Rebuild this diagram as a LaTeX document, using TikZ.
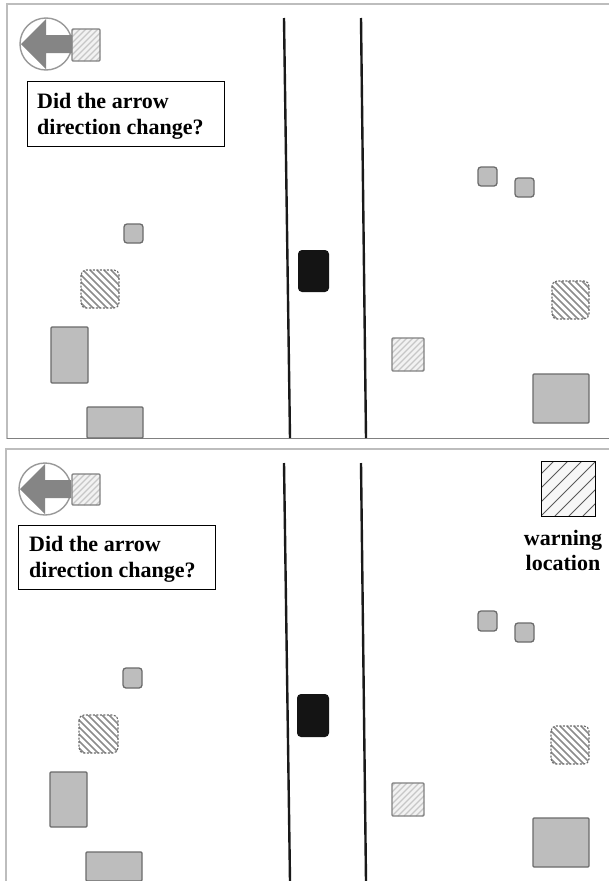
\documentclass[tikz,border=0pt]{standalone}
\usepackage{fontspec}
\setmainfont{Liberation Serif}
\definecolor{fillgray}{gray}{0.74}
\definecolor{edgegray}{gray}{0.42}
\definecolor{framegray}{gray}{0.74}
\tikzset{
  x=1pt,y=-1pt,
  framel/.style={draw=framegray,line width=1.6pt},
  framedark/.style={draw=black!50,line width=1.6pt},
  roadl/.style={draw=black!90,line width=2.4pt},
  grayb/.style={draw=edgegray,fill=fillgray,line width=1.3pt,rounded corners=1pt},
  graysm/.style={draw=edgegray,fill=fillgray,line width=1.3pt,rounded corners=3pt},
  car/.style={fill=black!92,rounded corners=4pt},
  hatchedge/.style={draw=edgegray,line width=1.1pt,rounded corners=5pt,dash pattern=on 2pt off 1.5pt},
  lightedge/.style={draw=black!50,line width=1.1pt,rounded corners=1pt},
  labelbox/.style={draw=black,fill=white,line width=.8pt},
  labeltext/.style={font=\fontsize{22}{26.5}\selectfont\bfseries,align=left,anchor=north west,inner sep=0pt},
  warntext/.style={font=\fontsize{22}{25.5}\selectfont\bfseries,align=center,anchor=north,inner sep=0pt},
  dial/.style={draw=black!40,fill=white,line width=1.4pt},
  arrowshape/.style={fill=black!48}
}
% rounded hatched tile, lines running down to the right
\newcommand{\densehatch}[4]{%
  \begin{scope}
    \clip[rounded corners=5pt] (#1,#2) rectangle (#3,#4);
    \foreach \k in {-40,-33,...,46}
      \draw[black!45,line width=1.5pt] (#1+\k,#2) -- ++(40,40);
  \end{scope}
  \draw[hatchedge] (#1,#2) rectangle (#3,#4);}
% square hatched tile, lines running up to the right
\newcommand{\lighthatch}[4]{%
  \begin{scope}
    \clip (#1,#2) rectangle (#3,#4);
    \fill[black!5] (#1,#2) rectangle (#3,#4);
    \foreach \k in {-36,-30,...,40}
      \draw[black!22,line width=1.2pt] (#1+\k,#4) -- ++(40,-40);
  \end{scope}
  \draw[lightedge] (#1,#2) rectangle (#3,#4);}
\newcommand{\dialarrow}[2]{%
  \draw[dial] (#1,#2) circle[radius=26];
  \fill[arrowshape] (#1-25,#2) -- (#1,#2-25) -- (#1,#2-9) -- (#1+26,#2-9)
    -- (#1+26,#2+9) -- (#1,#2+9) -- (#1,#2+25) -- cycle;}
\begin{document}
\begin{tikzpicture}
\useasboundingbox (0,0) rectangle (609,881);
\fill[white] (0,0) rectangle (609,881);
% frames
\draw[framel] (609,4) -- (7,4) -- (7,438.5);
\draw[framedark] (7,438.5) -- (609,438.5);
\draw[framel] (609,449) -- (6,449) -- (6,881);
% roads
\draw[roadl] (284,18) -- (290,438);
\draw[roadl] (361,18) -- (366,438);
\draw[roadl] (284,463) -- (290,881);
\draw[roadl] (361,463) -- (366,881);
% top panel
\lighthatch{72}{29}{100}{61}
\dialarrow{46}{44}
\node[labelbox,minimum width=197pt,minimum height=65pt,anchor=north west,inner sep=0pt] (q1) at (27,81) {};
\node[labeltext] (q1t) at (37,93) {Did the arrow\\direction change?};
\draw[graysm] (124,224) rectangle (143,243);
\densehatch{81}{270}{119}{308}
\draw[grayb] (51,327) rectangle (88,383);
\draw[grayb] (87,407) rectangle (143,438);
\fill[car] (298,250) rectangle (329,292);
\draw[graysm] (478,167) rectangle (497,186);
\draw[graysm] (515,178) rectangle (534,197);
\densehatch{552}{281}{589}{319}
\lighthatch{392}{338}{424}{371}
\draw[grayb] (533,374) rectangle (589,423);
% bottom panel
\lighthatch{72}{474}{100}{505}
\dialarrow{45}{489}
\node[labelbox,minimum width=197pt,minimum height=64pt,anchor=north west,inner sep=0pt] (q2) at (18,525) {};
\node[labeltext] (q2t) at (29,536) {Did the arrow\\direction change?};
\node[labelbox,fill=black!3,minimum width=54pt,minimum height=55pt,anchor=north west,inner sep=0pt] (w) at (541,461) {};
\begin{scope}
  \clip (541,461) rectangle (595,516);
  \foreach \k in {-42,-28,...,60}
    \draw[black!65,line width=.8pt] (541+\k,516) -- ++(56,-56);
\end{scope}
\draw[black,line width=.9pt] (541,461) rectangle (595,516);
\node[warntext] (wt) at (563,530) {warning\\location};
\draw[graysm] (123,668) rectangle (142,688);
\densehatch{79}{715}{118}{753}
\draw[grayb] (50,772) rectangle (87,827);
\draw[grayb] (86,852) rectangle (142,881);
\fill[car] (297,694) rectangle (329,737);
\draw[graysm] (478,611) rectangle (497,631);
\draw[graysm] (515,623) rectangle (534,642);
\densehatch{551}{726}{589}{764}
\lighthatch{392}{783}{424}{816}
\draw[grayb] (533,818) rectangle (589,867);
\end{tikzpicture}
\end{document}
